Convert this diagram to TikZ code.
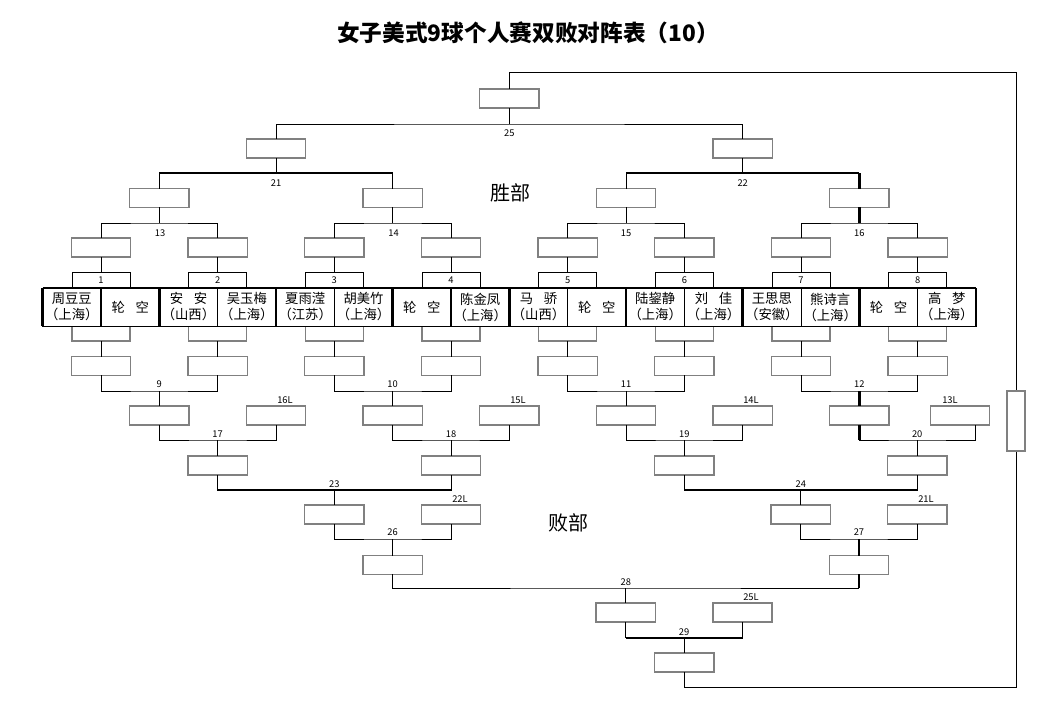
\documentclass[tikz,border=0pt]{standalone}
\usepackage{fontspec}
\setmainfont{Noto Sans CJK SC}
\definecolor{boxgray}{gray}{0.5}
\newcommand{\gp}{\hspace{0.8em}}
\newcommand{\wjoin}[4]{\draw[conn] (#1.north) |- (#4) -| (#2.north); \draw[conn] (#4) -- (#4 |- #3.south);}
\newcommand{\ljoin}[4]{\draw[conn] (#1.south) |- (#4) -| (#2.south); \draw[conn] (#4) -- (#4 |- #3.north);}
\begin{document}
\begin{tikzpicture}[x=0.75pt,y=-0.75pt,
  box/.style={draw=boxgray,line width=1.1pt,fill=white,minimum width=44.5pt,minimum height=14pt,inner sep=0pt,outer sep=0pt},
  ubox/.style={draw=boxgray,line width=1.1pt,minimum width=43.5pt,minimum height=11.25pt,inner sep=0pt,outer sep=0pt},
  mbox/.style={draw,line width=0.75pt,minimum width=43.5pt,minimum height=12pt,inner sep=0pt,outer sep=0pt,font=\fontsize{7}{8}\selectfont},
  cell/.style={draw,line width=0.75pt,fill=white,minimum width=43.75pt,minimum height=28.5pt,inner sep=0pt,outer sep=0pt,align=center,font=\fontsize{10}{12}\selectfont},
  conn/.style={line width=0.75pt},
  thk/.style={line width=1.8pt},
  num/.style={font=\fontsize{7}{8}\selectfont,inner sep=0pt},
  big/.style={font=\fontsize{15}{16}\selectfont,inner sep=0pt},
]
\useasboundingbox (0,0) rectangle (1056,707);
\node[font=\bfseries\fontsize{17}{19}\selectfont] (title) at (528,33) {女子美式9球个人赛双败对阵表（10）};

% ---------- first round: players ----------
\foreach \i/\na/\nb in {
 1/{周豆豆\\（上海）}/{轮\gp 空},
 2/{安\gp 安\\（山西）}/{吴玉梅\\（上海）},
 3/{夏雨滢\\（江苏）}/{胡美竹\\（上海）},
 4/{轮\gp 空}/{陈金凤\\（上海）},
 5/{马\gp 骄\\（山西）}/{轮\gp 空},
 6/{陆鋆静\\（上海）}/{刘\gp 佳\\（上海）},
 7/{王思思\\（安徽）}/{熊诗言\\（上海）},
 8/{轮\gp 空}/{高\gp 梦\\（上海）}}{
  \pgfmathsetmacro{\dx}{101+116.667*(\i-1)}
  \node[box] (R\i) at (\dx,247.5) {};
  \node[mbox] (M\i) at (\dx,280) {\i};
  \draw[conn] (R\i.south) -- (M\i.north);
  \node[ubox] (U\i) at (\dx,333.5) {};
  \node[box] (L\i) at (\dx,366) {};
  \draw[conn] (U\i.south) -- (L\i.north);
  \node[cell] (Pa\i) at (\dx-29.17,307) {\na};
  \node[cell] (Pb\i) at (\dx+29.17,307) {\nb};
  \draw[thk] (Pa\i.north west) -- (Pa\i.south west);
}
\draw[thk] (Pa1.north west) -- (Pb8.north east);
\draw[thk] (Pb8.north east) -- (Pb8.south east);
\draw[thk] (Pb4.north west) -- (Pb4.south west);

% ---------- winners' bracket ----------
\node[box] (W13) at (159.33,198) {};
\node[box] (W14) at (392.67,198) {};
\node[box] (W15) at (626,198) {};
\node[box] (W16) at (859.33,198) {};
\coordinate (j13) at (159.33,223);
\coordinate (j14) at (392.67,223);
\coordinate (j15) at (626,223);
\coordinate (j16) at (859.33,223);
\wjoin{R1}{R2}{W13}{j13}
\wjoin{R3}{R4}{W14}{j14}
\wjoin{R5}{R6}{W15}{j15}
\wjoin{R7}{R8}{W16}{j16}
\node[num] (n13) at (160,233) {13};
\node[num] (n14) at (393.5,233) {14};
\node[num] (n15) at (626,233) {15};
\node[num] (n16) at (859.33,233) {16};

\node[box] (W21) at (276,148.5) {};
\node[box] (W22) at (742.67,148.5) {};
\coordinate (j21) at (276,173);
\coordinate (j22) at (742.67,173);
\wjoin{W13}{W14}{W21}{j21}
\wjoin{W15}{W16}{W22}{j22}
\draw[thk] (W13.north |- j21) -- (W14.north |- j21);
\draw[thk] (W15.north |- j22) -- (W16.north |- j22);
\draw[thk] (W16.north) -- (W16.north |- j22);
\draw[thk] (j16) -- (W16.south);
\node[num] (n21) at (276,183) {21};
\node[num] (n22) at (742.67,183) {22};

\node[box] (W25) at (509.33,98.5) {};
\coordinate (j25) at (509.33,124);
\wjoin{W21}{W22}{W25}{j25}
\node[num] (n25) at (509.33,133) {25};

\node[big] (win) at (510,193) {胜部};

% ---------- losers' bracket ----------
\node[box] (X9) at (159.33,415.5) {};
\node[box] (X10) at (392.67,415.5) {};
\node[box] (X11) at (626,415.5) {};
\node[box] (X12) at (859.33,415.5) {};
\coordinate (j9) at (159.33,391);
\coordinate (j10) at (392.67,391);
\coordinate (j11) at (626,391);
\coordinate (j12) at (859.33,391);
\ljoin{L1}{L2}{X9}{j9}
\ljoin{L3}{L4}{X10}{j10}
\ljoin{L5}{L6}{X11}{j11}
\ljoin{L7}{L8}{X12}{j12}
\draw[thk] (j12) -- (X12.north);
\node[num] (n9) at (159.33,384) {9};
\node[num] (n10) at (392.67,384) {10};
\node[num] (n11) at (626,384) {11};
\node[num] (n12) at (859.33,384) {12};

\node[box] (D16) at (276,415.5) {};
\node[box] (D15) at (509.33,415.5) {};
\node[box] (D14) at (742.67,415.5) {};
\node[box] (D13) at (960,415.5) {};
\coordinate (d13) at (975,425);
\node[num] (n16L) at (285,400) {16L};
\node[num] (n15L) at (518,400) {15L};
\node[num] (n14L) at (751,400) {14L};
\node[num] (n13L) at (950,400) {13L};

\node[box] (X17) at (217.67,465.5) {};
\node[box] (X18) at (451,465.5) {};
\node[box] (X19) at (684.33,465.5) {};
\node[box] (X20) at (917.17,465.5) {};
\coordinate (j17) at (217.67,440);
\coordinate (j18) at (451,440);
\coordinate (j19) at (684.33,440);
\coordinate (j20) at (917.17,440);
\ljoin{X9}{D16}{X17}{j17}
\ljoin{X10}{D15}{X18}{j18}
\ljoin{X11}{D14}{X19}{j19}
\draw[conn] (X12.south) |- (j20) -| (d13);
\draw[conn] (j20) -- (X20.north);
\draw[thk] (X12.south) -- (X12.south |- j20);
\node[num] (n17) at (217.67,434) {17};
\node[num] (n18) at (451,434) {18};
\node[num] (n19) at (684.33,434) {19};
\node[num] (n20) at (917.17,434) {20};

\node[box] (Y23) at (334.33,514.5) {};
\node[box] (D22) at (451,514.5) {};
\node[box] (Y24) at (800.75,514.5) {};
\node[box] (D21) at (917.17,514.5) {};
\coordinate (j23) at (334.33,490);
\coordinate (j24) at (800.75,490);
\ljoin{X17}{X18}{Y23}{j23}
\ljoin{X19}{X20}{Y24}{j24}
\draw[thk] (X17.south |- j23) -- (X18.south |- j23);
\draw[thk] (X19.south |- j24) -- (X20.south |- j24);
\node[num] (n23) at (334.33,484) {23};
\node[num] (n24) at (800.75,484) {24};
\node[num] (n22L) at (460,499) {22L};
\node[num] (n21L) at (926,499) {21L};

\node[box] (Z26) at (392.67,565) {};
\node[box] (Z27) at (858.96,565) {};
\coordinate (j26) at (392.67,539);
\coordinate (j27) at (858.96,539);
\ljoin{Y23}{D22}{Z26}{j26}
\ljoin{Y24}{D21}{Z27}{j27}
\draw[thk] (j27) -- (Z27.north);
\node[num] (n26) at (392.67,532) {26};
\node[num] (n27) at (858.96,532) {27};

\node[box] (F28) at (625.8,612.5) {};
\node[box] (D25) at (742.5,612.5) {};
\coordinate (j28) at (625.8,588);
\ljoin{Z26}{Z27}{F28}{j28}
\draw[thk] (Z27.south) -- (Z27.south |- j28);
\node[num] (n28) at (625.8,582) {28};
\node[num] (n25L) at (751,597) {25L};

\node[box] (F29) at (684.15,662.5) {};
\coordinate (j29) at (684.15,637.7);
\ljoin{F28}{D25}{F29}{j29}
\draw[thk] (F28.south |- j29) -- (D25.south |- j29);
\node[num] (n29) at (684.15,632) {29};

\node[big] (lose) at (568,523) {败部};

% ---------- final return line ----------
\coordinate (cb) at (1016,687);
\coordinate (ct) at (1016,72);
\draw[conn] (F29.south) |- (cb) -- (ct) -| (W25.north);
\node[box,minimum width=13.5pt,minimum height=45pt] (S) at (1016,421) {};
\end{tikzpicture}
\end{document}
